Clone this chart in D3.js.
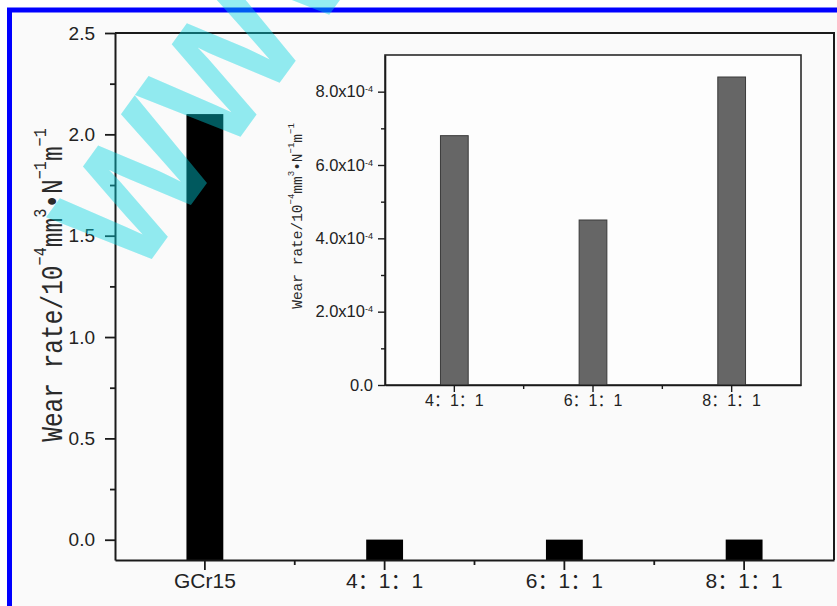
<!DOCTYPE html>
<html>
<head>
<meta charset="UTF-8">
<title>Wear rate</title>
<style>
  body { margin: 0; background: #fff; }
  text.tick-main { font-family: "Liberation Sans", "Noto Sans CJK SC", Arial, sans-serif; fill: #222; }
  .axis path, .axis line { stroke: #1a1a1a; }
</style>
<script src="https://cdn.jsdelivr.net/npm/d3@7"></script>
</head>
<body>
<div id="chart"></div>
<script>
// data
const mainCats = ["GCr15", "4\uFF1A1\uFF1A1", "6\uFF1A1\uFF1A1", "8\uFF1A1\uFF1A1"];
const mainValues = [2.1, 6.8e-4, 4.5e-4, 8.4e-4];
const mainTicks = [0, 0.5, 1.0, 1.5, 2.0, 2.5];
const mainMinorTicks = [0.25, 0.75, 1.25, 1.75, 2.25];

const insetCats = ["4\uFF1A1\uFF1A1", "6\uFF1A1\uFF1A1", "8\uFF1A1\uFF1A1"];
const insetValues = [6.8e-4, 4.5e-4, 8.4e-4];
const insetTicks = [0, 2e-4, 4e-4, 6e-4, 8e-4];
const insetMinorTicks = [1e-4, 3e-4, 5e-4, 7e-4];

const W = 837, H = 606;
const svg = d3.select("#chart").append("svg")
  .attr("width", W).attr("height", H);

// page background + blue frame
svg.append("rect").attr("x", 12).attr("y", 12).attr("width", W).attr("height", H)
  .attr("fill", "#fafafa");
svg.append("rect").attr("x", 9.5).attr("y", 10).attr("width", W + 20).attr("height", H + 20)
  .attr("fill", "none").attr("stroke", "#0000ff").attr("stroke-width", 5);

// ---------- main plot ----------
const m = { left: 115, right: 834, top: 33, bottom: 560 };
const x = d3.scaleBand().domain(mainCats).range([m.left, m.right]);
const y = d3.scaleLinear().domain([-0.1, 2.5]).range([m.bottom, m.top]);
const base = y(y.domain()[0]);

const barW = x.bandwidth() * 0.205;
svg.append("g").selectAll("rect")
  .data(mainCats)
  .enter().append("rect")
    .attr("x", (d) => x(d) + x.bandwidth() / 2 - barW / 2)
    .attr("y", (d, i) => y(mainValues[i]))
    .attr("width", barW)
    .attr("height", (d, i) => base - y(mainValues[i]))
    .attr("fill", "#000");

// frame top/right
svg.append("path")
  .attr("d", "M" + m.left + "," + m.top + "H" + m.right + "V" + m.bottom)
  .attr("fill", "none").attr("stroke", "#1a1a1a").attr("stroke-width", 2);

const gy = svg.append("g").attr("class", "axis")
  .attr("transform", "translate(" + m.left + ",0)")
  .call(d3.axisLeft(y).tickValues(mainTicks).tickSize(10).tickPadding(10)
    .tickSizeOuter(0).tickFormat(d3.format(".1f")));
gy.select(".domain").attr("stroke-width", 2);
gy.selectAll(".tick line").attr("stroke-width", 1.8);
gy.selectAll(".tick text").attr("class", "tick-main").attr("font-size", 19);

svg.append("g").attr("class", "axis")
  .attr("transform", "translate(" + m.left + ",0)")
  .call(d3.axisLeft(y).tickValues(mainMinorTicks).tickSize(5).tickFormat(""))
  .call((g) => g.select(".domain").remove())
  .selectAll("line").attr("stroke-width", 1.8);

const gx = svg.append("g").attr("class", "axis")
  .attr("transform", "translate(0," + m.bottom + ")")
  .call(d3.axisBottom(x).tickSize(10).tickPadding(3).tickSizeOuter(0));
gx.select(".domain").attr("stroke-width", 2);
gx.selectAll(".tick line").attr("stroke-width", 1.8);
gx.selectAll(".tick text").attr("class", "tick-main").attr("font-size", 21);

// minor x ticks at band boundaries
const xMinor = mainCats.slice(1).map((d) => x(d));
svg.append("g").selectAll("line")
  .data(xMinor)
  .enter().append("line")
    .attr("x1", (d) => d).attr("x2", (d) => d)
    .attr("y1", m.bottom).attr("y2", m.bottom + 5)
    .attr("stroke", "#1a1a1a").attr("stroke-width", 1.8);

// y label with superscripts
function unitLabel(g, size) {
  const t = g.append("text")
    .attr("font-family", "'Liberation Mono', 'DejaVu Sans Mono', monospace")
    .attr("font-size", size).attr("fill", "#2a2a2a").attr("text-anchor", "middle");
  const parts = [["Wear rate/10", 0], ["\u2212" + "4", 1], ["mm", 0], ["3", 1],
                 ["\u2022", 0], ["N", 0], ["\u2212" + "1", 1], ["m", 0], ["\u2212" + "1", 1]];
  let up = false;
  parts.forEach(([s, sup]) => {
    const ts = t.append("tspan").text(s);
    if (sup && !up) { ts.attr("dy", -0.55 * size).attr("font-size", size * 0.62); up = true; }
    else if (sup && up) { ts.attr("font-size", size * 0.62); }
    else if (!sup && up) { ts.attr("dy", 0.55 * size); up = false; }
  });
  return t;
}
svg.append("g").attr("transform", "translate(62,285) rotate(-90) scale(1,1.2)")
  .call((g) => unitLabel(g, 24.5));

// ---------- inset ----------
const n = { left: 385, right: 801, top: 55, bottom: 385 };
const xi = d3.scaleBand().domain(insetCats).range([n.left, n.right]);
const yi = d3.scaleLinear().domain([0, 9e-4]).range([n.bottom, n.top]);

svg.append("rect")
  .attr("x", n.left).attr("y", n.top)
  .attr("width", n.right - n.left).attr("height", n.bottom - n.top)
  .attr("fill", "#fdfdfd").attr("stroke", "#2a2a2a").attr("stroke-width", 1.6);

const barWi = xi.bandwidth() * 0.2;
svg.append("g").selectAll("rect")
  .data(insetCats)
  .enter().append("rect")
    .attr("x", (d) => xi(d) + xi.bandwidth() / 2 - barWi / 2)
    .attr("y", (d, i) => yi(insetValues[i]))
    .attr("width", barWi)
    .attr("height", (d, i) => yi(0) - yi(insetValues[i]))
    .attr("fill", "#666").attr("stroke", "#3a3a3a").attr("stroke-width", 1);

const gyi = svg.append("g").attr("class", "axis")
  .attr("transform", "translate(" + n.left + ",0)")
  .call(d3.axisLeft(yi).tickValues(insetTicks).tickSize(7).tickPadding(5).tickSizeOuter(0)
    .tickFormat((d) => d === 0 ? "0.0" : (d / 1e-4).toFixed(1) + "x10"));
gyi.select(".domain").attr("stroke-width", 1.6);
gyi.selectAll(".tick line").attr("stroke-width", 1.4);
gyi.selectAll(".tick text").attr("class", "tick-main").attr("font-size", 16.5);
gyi.selectAll(".tick text").filter((d) => d !== 0)
  .append("tspan").attr("dy", "-0.55em").attr("font-size", "0.55em").text("-4");

svg.append("g").attr("class", "axis")
  .attr("transform", "translate(" + n.left + ",0)")
  .call(d3.axisLeft(yi).tickValues(insetMinorTicks).tickSize(4).tickFormat(""))
  .call((g) => g.select(".domain").remove())
  .selectAll("line").attr("stroke-width", 1.4);

const gxi = svg.append("g").attr("class", "axis")
  .attr("transform", "translate(0," + n.bottom + ")")
  .call(d3.axisBottom(xi).tickSize(7).tickPadding(3).tickSizeOuter(0));
gxi.select(".domain").attr("stroke-width", 1.6);
gxi.selectAll(".tick line").attr("stroke-width", 1.4);
gxi.selectAll(".tick text").attr("class", "tick-main").attr("font-size", 16);

svg.append("g").selectAll("line")
  .data(insetCats.slice(1).map((d) => xi(d)))
  .enter().append("line")
    .attr("x1", (d) => d).attr("x2", (d) => d)
    .attr("y1", n.bottom).attr("y2", n.bottom + 4)
    .attr("stroke", "#1a1a1a").attr("stroke-width", 1.4);

svg.append("g").attr("transform", "translate(302,216) rotate(-90) scale(1,1.05)")
  .call((g) => unitLabel(g, 14.5));

// ---------- watermark ----------
svg.append("text")
  .attr("transform", "translate(135,282) rotate(-54)")
  .attr("font-family", "'Liberation Sans', Arial, sans-serif")
  .attr("font-weight", "bold").attr("font-size", 160)
  .attr("fill", "#00d4e0").attr("fill-opacity", 0.42)
  .text("WWW");
</script>
</body>
</html>
